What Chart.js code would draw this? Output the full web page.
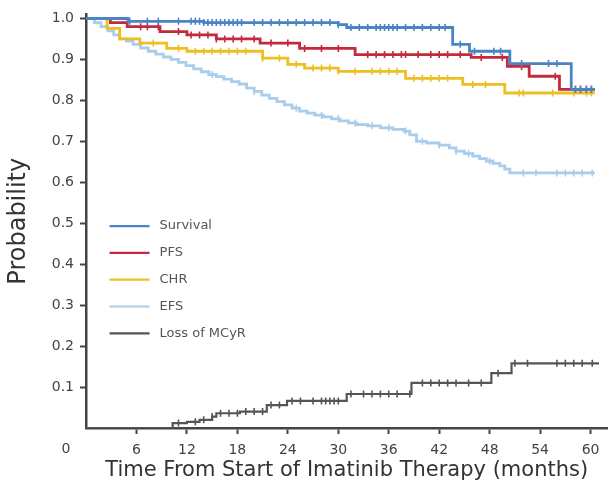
<!DOCTYPE html>
<html>
<head>
<meta charset="utf-8">
<script src="https://cdn.jsdelivr.net/npm/chart.js@4.4.1/dist/chart.umd.min.js"></script>
<style>
html,body{margin:0;padding:0;background:#fff;}
#wrap{width:613px;height:492px;}
</style>
</head>
<body>
<div id="wrap"><canvas id="c" width="613" height="492"></canvas></div>
<script>
// ---- Data (months, probability) ----
const seriesNames = ["Survival", "PFS", "CHR", "EFS", "Loss of MCyR"];
const xTickLabels = [6, 12, 18, 24, 30, 36, 42, 48, 54, 60];
const yTickLabels = [0.1, 0.2, 0.3, 0.4, 0.5, 0.6, 0.7, 0.8, 0.9, 1.0];

const survivalCurve = [[0,1.0],[5,0.993],[14,0.99],[30,0.985],[31,0.978],[43.6,0.937],[45.6,0.92],[50.4,0.89],[57.7,0.827],[60.5,0.827]];
const pfsCurve = [[0,1.0],[2.9,0.99],[4.9,0.98],[8.8,0.968],[12,0.96],[15.5,0.95],[20.7,0.94],[25.4,0.927],[32,0.912],[45.8,0.905],[50.1,0.883],[52.7,0.859],[56.3,0.827],[60.5,0.827]];
const chrCurve = [[0,1.0],[2.5,0.976],[4,0.95],[6.4,0.94],[9.6,0.927],[12,0.92],[21,0.903],[24,0.888],[26,0.879],[30,0.871],[38,0.854],[44.8,0.839],[49.8,0.818],[60.5,0.818]];
const efsCurve = [[0,1.0],[1,0.99],[1.8,0.98],[2.6,0.97],[3.3,0.96],[4,0.95],[4.8,0.945],[5.6,0.937],[6.5,0.928],[7.4,0.92],[8.3,0.913],[9.2,0.906],[10.1,0.9],[11,0.893],[11.9,0.885],[12.8,0.877],[13.7,0.87],[14.6,0.863],[15.5,0.858],[16.4,0.852],[17.3,0.846],[18.2,0.84],[19.1,0.83],[20,0.822],[20.9,0.813],[21.8,0.805],[22.7,0.797],[23.6,0.789],[24.5,0.781],[25.4,0.774],[26.3,0.769],[27.2,0.764],[28.2,0.76],[29.2,0.755],[30.2,0.75],[31.2,0.745],[32.2,0.741],[33.5,0.738],[35,0.733],[36.5,0.729],[37.8,0.725],[38.5,0.716],[39.3,0.7],[40.5,0.696],[42,0.691],[43.2,0.684],[44,0.676],[45,0.67],[46,0.664],[46.8,0.658],[47.6,0.652],[48.4,0.646],[49.2,0.64],[49.8,0.632],[50.4,0.623],[60.5,0.623]];
const lossCurve = [[0,0],[10.3,0.012],[12,0.015],[13.5,0.02],[15,0.028],[15.5,0.036],[18.3,0.04],[21.5,0.056],[23.9,0.066],[31,0.083],[38.7,0.11],[48.2,0.134],[50.6,0.158],[61,0.158]];

const survivalCensor = [5.2,7.3,8.6,11,12.5,13,13.5,14,14.5,15,15.5,16,16.5,17,17.5,18,18.5,20,21,22,23,24,25,26,27,28,29,30,31.5,32.5,33.5,34.5,35,35.5,36,36.5,37,38,39,40,41,42,42.7,44.5,46.2,48.5,49.3,51.8,55,56,58.2,58.8,59.5,60.1];
const pfsCensor = [6.5,7.3,8.6,11,12.5,13.5,14.5,15.5,16.5,17.5,18.5,20,22,24,26,28,30,33.5,34.5,35.5,36.5,37.5,38,39.5,41,42,43,44.5,47,49.5,51.8,55.8,58.2,58.8,59.5,60.1];
const chrCensor = [8,11,13,14,15,16,17,18,19,21,23,25,27,28,29,30,32,34,35,36,37,39,40,41,42,43,46,47.5,51.5,52,55.5,58,59.5,60.1];
const efsCensor = [15,20,25,28,30,32,34,36,38,40,42,44,45.5,48,52,53.5,56,57,58,59,60.2];
const lossCensor = [11,13,14,15,16,17,18,19,20,21,22,23,24.5,25.5,27,28,28.5,29,29.5,30,31.5,33,34,35,36,37,38.5,40,41,42,43,44,45.5,47,49,51,52.5,56,57,58,59,60.2];

const seriesColors = ["#4a84c4", "#c42a3e", "#eebf22", "#a9cdea", "#555555"];

// ---- build ----
const curves = [survivalCurve, pfsCurve, chrCurve, efsCurve, lossCurve];
const censors = [survivalCensor, pfsCensor, chrCensor, efsCensor, lossCensor];
function stepValue(curve, t){ let v = curve[0][1]; for (const p of curve){ if (p[0] <= t) v = p[1]; } return v; }

const FONT = '"DejaVu Sans", "Liberation Sans", sans-serif';
const datasets = [];
curves.forEach((c, i) => {
  datasets.push({
    label: seriesNames[i],
    data: c.map(p => ({x: p[0], y: p[1]})),
    borderColor: seriesColors[i],
    backgroundColor: seriesColors[i],
    borderWidth: i === 4 ? 2.2 : 2.8,
    stepped: 'before',
    pointRadius: 0,
    fill: false,
    order: i
  });
});
curves.forEach((c, i) => {
  datasets.push({
    label: seriesNames[i] + " censored",
    type: 'scatter',
    data: censors[i].map(t => ({x: t, y: stepValue(c, t)})),
    borderColor: seriesColors[i],
    backgroundColor: seriesColors[i],
    pointStyle: 'line',
    rotation: 90,
    pointRadius: 3.5,
    pointBorderWidth: 1.6,
    showLine: false,
    order: i
  });
});

const extras = {
  id: 'extras',
  afterDraw(chart){
    const ctx = chart.ctx;
    const xs = chart.scales.x, ys = chart.scales.y;
    ctx.save();
    // origin label
    ctx.fillStyle = '#444';
    ctx.font = '14px ' + FONT;
    ctx.textAlign = 'center';
    ctx.textBaseline = 'middle';
    ctx.fillText('0', xs.getPixelForValue(0) - 20, ys.getPixelForValue(0) + 21);
    // legend inside plot
    const lx = xs.getPixelForValue(2.8), ly0 = ys.getPixelForValue(0.493), step = 26.8;
    ctx.font = '13px ' + FONT;
    ctx.textAlign = 'left';
    ctx.textBaseline = 'middle';
    seriesNames.forEach((n, i) => {
      const y = ly0 + i * step;
      ctx.strokeStyle = seriesColors[i];
      ctx.lineWidth = 2.2;
      ctx.beginPath(); ctx.moveTo(lx, y); ctx.lineTo(lx + 40, y); ctx.stroke();
      ctx.fillStyle = '#555';
      ctx.fillText(n, lx + 50, y);
    });
    ctx.restore();
  }
};

new Chart(document.getElementById('c'), {
  type: 'line',
  data: { datasets },
  options: {
    responsive: false,
    animation: false,
    layout: { padding: { top: 13, right: 5, left: 0, bottom: 2 } },
    plugins: { legend: { display: false }, tooltip: { enabled: false } },
    scales: {
      x: {
        type: 'linear', min: 0, max: 62,
        afterBuildTicks(s){ s.ticks = xTickLabels.map(v => ({value: v})); },
        afterFit(s){ s.height = 62; },
        border: { display: true, color: '#444', width: 2.5 },
        grid: { display: true, drawOnChartArea: false, drawTicks: true, tickLength: 6, tickWidth: 2, color: '#444' },
        ticks: { color: '#444', font: { family: FONT, size: 14 }, padding: 8, maxRotation: 0 },
        title: { display: true, text: 'Time From Start of Imatinib Therapy (months)', color: '#333', font: { family: FONT, size: 21 }, padding: { top: 0, bottom: 7 } }
      },
      y: {
        type: 'linear', min: 0, max: 1.01,
        afterBuildTicks(s){ s.ticks = yTickLabels.map(v => ({value: v})); },
        afterFit(s){ s.width = 86; },
        border: { display: true, color: '#444', width: 2.5 },
        grid: { display: true, drawOnChartArea: false, drawTicks: true, tickLength: 6, tickWidth: 2, color: '#444' },
        ticks: { color: '#444', font: { family: FONT, size: 14 }, padding: 6, callback: v => v.toFixed(1) },
        title: { display: true, text: 'Probability', color: '#333', font: { family: FONT, size: 24 }, padding: { top: 4, bottom: 4 } }
      }
    }
  },
  plugins: [extras]
});
</script>
</body>
</html>
